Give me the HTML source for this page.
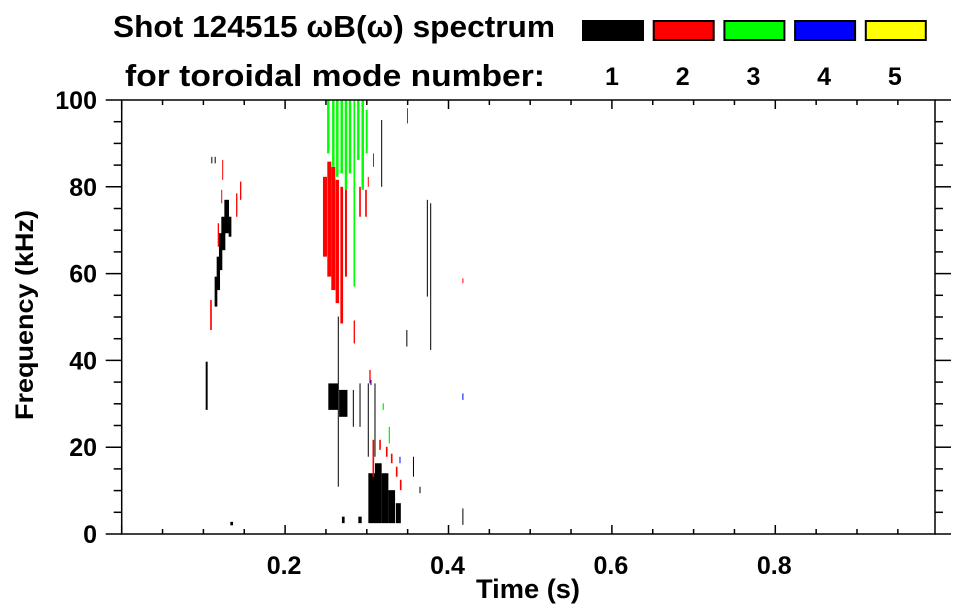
<!DOCTYPE html>
<html><head><meta charset="utf-8"><style>
html,body{margin:0;padding:0;background:#fff;}
svg{display:block;font-family:"Liberation Sans",sans-serif;font-weight:bold;}
</style></head><body>
<svg id="chart" width="963" height="615" viewBox="0 0 963 615" xmlns="http://www.w3.org/2000/svg">
<text x="113" y="37" font-size="31" textLength="442" lengthAdjust="spacingAndGlyphs">Shot 124515 ωB(ω) spectrum</text>
<text x="125" y="86" font-size="31" textLength="420" lengthAdjust="spacingAndGlyphs">for toroidal mode number:</text>
<g id="legend"></g>
<g id="marks"></g>
<g id="axes"></g>
<text x="476" y="598" font-size="27" textLength="104" lengthAdjust="spacingAndGlyphs">Time (s)</text>
<text transform="translate(33,420) rotate(-90)" font-size="25" textLength="210" lengthAdjust="spacingAndGlyphs">Frequency (kHz)</text>
</svg>
<script>
// spectrum streaks: time (s), freq low/high (kHz), mode number, time width (s)
const times = [0.1154,0.1183,0.1211,0.1244,0.1285,0.1326,0.1093,0.1183,0.1236,0.1408,0.1456,0.1224,0.1040,0.1101,0.1142,0.1346,
 0.2488,0.2541,0.2590,0.2639,0.2693,0.2745,0.2847,0.2917,0.2990,
 0.2529,0.2590,0.2639,0.2693,0.2745,0.2794,0.2847,0.2896,0.2950,0.2999,
 0.2590,0.2712,0.2651,0.2835,0.2917,0.3018,0.3100,
 0.3060,0.3141,0.3223,0.3305,0.3386,
 0.3039,0.3080,0.3162,0.3244,0.3305,0.3366,0.3415,
 0.3202,0.3276,0.3051,0.3406,0.4174,
 0.3741,0.3782,0.3182,0.3488,0.4174,0.3651,0.2712,0.2917,0.3569,
 0.3496,0.4174,0.3080,0.3018];
const fLow = [52.4,56.2,60.8,65.4,69.3,68.5,47.0,66.2,81.6,73.1,77.0,76.2,28.6,85.4,85.4,2.0,
 63.9,59.3,56.2,53.2,48.5,59.3,43.9,73.1,73.1,
 87.7,84.6,82.3,83.1,79.3,83.1,57.0,86.2,79.3,87.7,
 28.6,27.0,10.9,24.7,24.7,17.8,17.8,
 2.5,2.5,2.5,2.5,2.5,
 34.7,13.2,19.4,17.8,16.3,13.2,10.1,
 28.6,20.9,34.3,16.3,30.9,
 54.7,42.4,80.0,43.2,2.1,9.4,2.5,2.5,13.2,
 94.6,57.8,84.6,80.0];
const fHigh = [59.3,63.9,69.3,73.1,77.0,73.1,53.9,71.6,86.2,78.5,81.2,79.3,39.7,86.9,86.9,2.8,
 82.3,85.8,84.6,81.6,80.0,80.0,49.2,80.0,79.3,
 100,100,100,100,100,100,100,100,100,97.7,
 34.7,33.2,50.1,33.2,34.7,34.7,34.7,
 14.0,16.3,14.0,10.1,7.1,
 37.8,21.7,21.7,20.1,18.5,15.5,12.5,
 30.1,24.7,35.5,17.8,32.4,
 77.0,76.2,95.4,47.0,5.9,10.9,4.0,4.0,17.8,
 98.1,58.9,87.7,82.3];
const modes = [1,1,1,1,1,1,2,2,2,2,2,2,1,1,1,1,
 2,2,2,2,2,2,2,2,2,
 3,3,3,3,3,3,3,3,3,3,
 1,1,1,1,1,1,1,
 1,1,1,1,1,
 2,2,2,2,2,2,2,
 3,3,4,4,4,
 1,1,1,1,1,1,1,1,1,
 2,2,2,2];
const widths = [0.0033,0.0041,0.0041,0.0049,0.0057,0.0033,0.0020,0.0016,0.0012,0.0016,0.0016,0.0012,0.0024,0.0008,0.0008,0.0033,
 0.0049,0.0049,0.0049,0.0041,0.0033,0.0024,0.0016,0.0020,0.0020,
 0.0030,0.0030,0.0030,0.0030,0.0030,0.0030,0.0020,0.0030,0.0030,0.0024,
 0.0122,0.0102,0.0012,0.0012,0.0012,0.0012,0.0012,
 0.0082,0.0082,0.0082,0.0082,0.0061,
 0.0016,0.0020,0.0020,0.0020,0.0020,0.0020,0.0020,
 0.0016,0.0016,0.0012,0.0012,0.0008,
 0.0012,0.0012,0.0012,0.0008,0.0008,0.0012,0.0033,0.0041,0.0008,
 0.0008,0.0008,0.0008,0.0012];
const legendLabels = ["1","2","3","4","5"];
const modeColors = ["#000000","#ff0000","#00ff00","#0000ff","#ffff00"];
const xTickLabels = [0.2,0.4,0.6,0.8];
const yTickLabels = [0,20,40,60,80,100];

const NS="http://www.w3.org/2000/svg";
const L=121.7,R=935,T=100,B=534;
const X=t=>L+t*817;
const Y=f=>B-(f/100)*(B-T);
function mk(tag,attrs,parent){const e=document.createElementNS(NS,tag);for(const k in attrs)e.setAttribute(k,attrs[k]);parent.appendChild(e);return e;}

const marks=document.getElementById('marks');
for(let i=0;i<times.length;i++){
  const x=X(times[i]-widths[i]/2), w=Math.max(1,widths[i]*817);
  const y=Y(Math.min(100,fHigh[i])), h=Math.max(1.5,Y(fLow[i])-y);
  const r=mk('rect',{x:x,y:y,width:w,height:h,fill:modeColors[modes[i]-1]},marks);
  
  
}

const axes=document.getElementById('axes');
const st={stroke:'#000','stroke-width':1.5,fill:'none'};
mk('rect',Object.assign({x:L,y:T,width:R-L,height:B-T},st),axes);
for(let f=0;f<=100;f+=5){
  const y=Y(f), len=(f%20===0)?16:8;
  mk('line',Object.assign({x1:L-len,y1:y,x2:L,y2:y},st),axes);
  mk('line',Object.assign({x1:R,y1:y,x2:R+len,y2:y},st),axes);
}
yTickLabels.forEach(v=>{
  const t=mk('text',{x:97,y:Y(v)+9,'font-size':25,'text-anchor':'end'},axes);t.textContent=v;
  
  
});
for(let k=0;k<=19;k++){
  const t=k*0.05, x=X(t); if(x>R+0.5)break;
  const len=(k%4===0)?9:5;
  mk('line',Object.assign({x1:x,y1:B,x2:x,y2:B-len},st),axes);
  mk('line',Object.assign({x1:x,y1:T,x2:x,y2:T+len},st),axes);
}
xTickLabels.forEach(v=>{
  const t=mk('text',{x:X(v)-1,y:574,'font-size':25,'text-anchor':'middle'},axes);t.textContent=v.toFixed(1);
  
  
});

const legend=document.getElementById('legend');
legendLabels.forEach((lab,i)=>{
  const x=582+i*70.7;
  const r=mk('rect',{x:x+1,y:21,width:60,height:19,fill:modeColors[i],stroke:'#000','stroke-width':2},legend);
  
  
  const t=mk('text',{x:x+30,y:85,'font-size':25,'text-anchor':'middle'},legend);t.textContent=lab;
  
  
});
</script>
</body></html>
